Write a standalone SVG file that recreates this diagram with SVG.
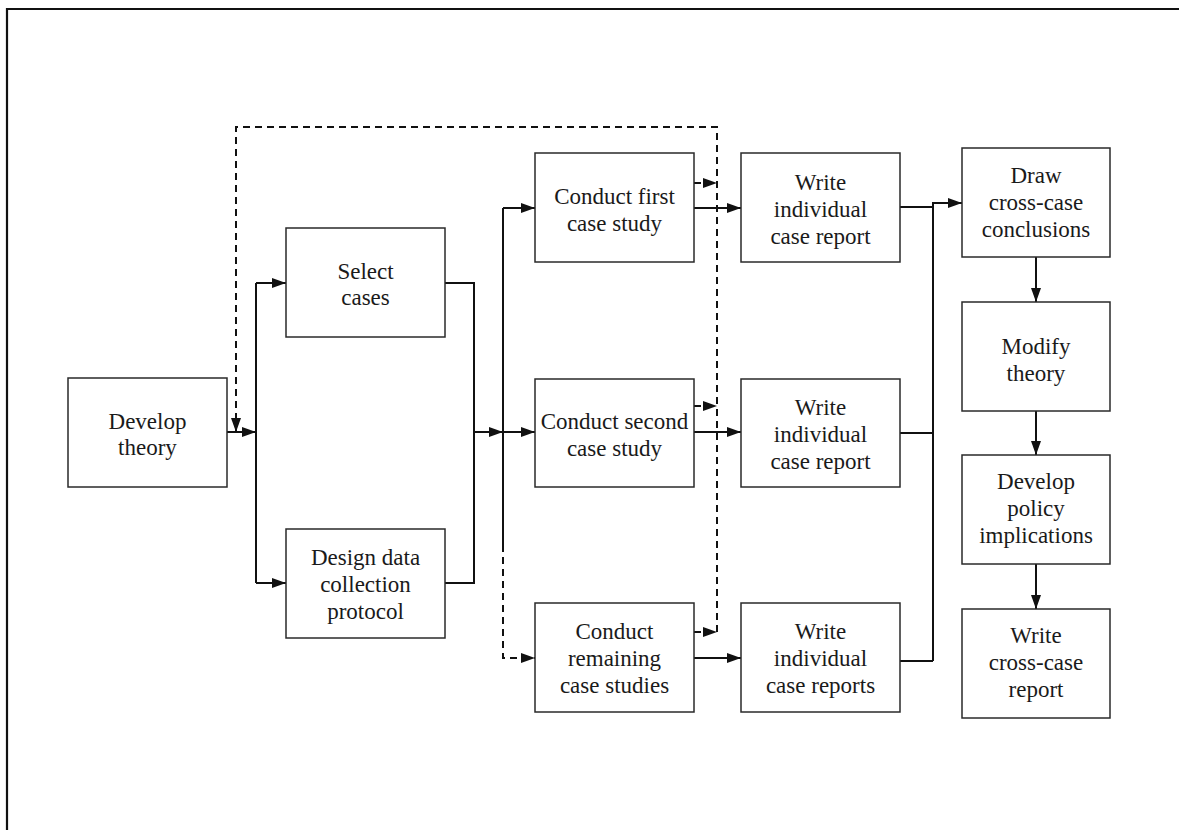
<svg xmlns="http://www.w3.org/2000/svg" width="1179" height="830" viewBox="0 0 1179 830">
  <style>
    .box { fill: #ffffff; stroke: #2a2a2a; stroke-width: 1.5; }
    .lbl { font-family: "Liberation Serif", "Times New Roman", serif; font-size: 23px; fill: #1a1a1a; text-anchor: middle; }
    .ln { fill: none; stroke: #111; stroke-width: 2; }
    .dash { fill: none; stroke: #111; stroke-width: 2; stroke-dasharray: 7 5; }
    .arr { marker-end: url(#head); }
  </style>
  <defs>
    <marker id="head" markerUnits="userSpaceOnUse" markerWidth="16" markerHeight="12" refX="14" refY="5.5" orient="auto">
      <path d="M0,0.5 L14,5.5 L0,10.5 z" fill="#111"/>
    </marker>
  </defs>

  <rect x="0" y="0" width="1179" height="830" fill="#ffffff"/>
  <!-- page frame (top and left edges) -->
  <path d="M7,832 V9 H1181" fill="none" stroke="#111" stroke-width="2.2"/>

  <!-- connectors -->
  <g id="connectors">
    <path class="ln arr" d="M227,432 H256"/>
    <path class="ln" d="M256,283 V583"/>
    <path class="ln arr" d="M256,283 H286"/>
    <path class="ln arr" d="M256,583 H286"/>
    <path class="ln" d="M445,283 H474 V583 H445"/>
    <path class="ln arr" d="M474,432 H503"/>
    <path class="ln arr" d="M503,432 H535"/>
    <path class="ln" d="M503,545 V208"/>
    <path class="ln arr" d="M503,208 H535"/>
    <path class="dash arr" d="M503,545 V658 H535"/>

    <path class="dash arr" d="M694,183 H717"/>
    <path class="dash arr" d="M694,406 H717"/>
    <path class="dash arr" d="M694,632 H717"/>
    <path class="dash arr" d="M717,632 V127 H236 V432"/>

    <path class="ln arr" d="M694,208 H741"/>
    <path class="ln arr" d="M694,432 H741"/>
    <path class="ln arr" d="M694,658 H741"/>

    <path class="ln" d="M900,207 H933"/>
    <path class="ln" d="M900,433 H933"/>
    <path class="ln" d="M900,661 H933"/>
    <path class="ln arr" d="M933,661 V203 H962"/>

    <path class="ln arr" d="M1036,257 V302"/>
    <path class="ln arr" d="M1036,411 V455"/>
    <path class="ln arr" d="M1036,564 V609"/>
  </g>

  <!-- nodes -->
  <g id="develop-theory">
    <rect class="box" x="68" y="378" width="159" height="109"/>
    <text class="lbl" x="147.5" y="429">Develop</text>
    <text class="lbl" x="147.5" y="455">theory</text>
  </g>
  <g id="select-cases">
    <rect class="box" x="286" y="228" width="159" height="109"/>
    <text class="lbl" x="365.5" y="279">Select</text>
    <text class="lbl" x="365.5" y="305">cases</text>
  </g>
  <g id="design-protocol">
    <rect class="box" x="286" y="529" width="159" height="109"/>
    <text class="lbl" x="365.5" y="565">Design data</text>
    <text class="lbl" x="365.5" y="592">collection</text>
    <text class="lbl" x="365.5" y="619">protocol</text>
  </g>

  <g id="conduct-first">
    <rect class="box" x="535" y="153" width="159" height="109"/>
    <text class="lbl" x="614.5" y="204">Conduct first</text>
    <text class="lbl" x="614.5" y="231">case study</text>
  </g>
  <g id="conduct-second">
    <rect class="box" x="535" y="379" width="159" height="108"/>
    <text class="lbl" x="614.5" y="429">Conduct second</text>
    <text class="lbl" x="614.5" y="456">case study</text>
  </g>
  <g id="conduct-remaining">
    <rect class="box" x="535" y="603" width="159" height="109"/>
    <text class="lbl" x="614.5" y="639">Conduct</text>
    <text class="lbl" x="614.5" y="666">remaining</text>
    <text class="lbl" x="614.5" y="693">case studies</text>
  </g>

  <g id="write-first">
    <rect class="box" x="741" y="153" width="159" height="109"/>
    <text class="lbl" x="820.5" y="190">Write</text>
    <text class="lbl" x="820.5" y="217">individual</text>
    <text class="lbl" x="820.5" y="244">case report</text>
  </g>
  <g id="write-second">
    <rect class="box" x="741" y="379" width="159" height="108"/>
    <text class="lbl" x="820.5" y="415">Write</text>
    <text class="lbl" x="820.5" y="442">individual</text>
    <text class="lbl" x="820.5" y="469">case report</text>
  </g>
  <g id="write-remaining">
    <rect class="box" x="741" y="603" width="159" height="109"/>
    <text class="lbl" x="820.5" y="639">Write</text>
    <text class="lbl" x="820.5" y="666">individual</text>
    <text class="lbl" x="820.5" y="693">case reports</text>
  </g>

  <g id="draw-conclusions">
    <rect class="box" x="962" y="148" width="148" height="109"/>
    <text class="lbl" x="1036" y="183">Draw</text>
    <text class="lbl" x="1036" y="210">cross-case</text>
    <text class="lbl" x="1036" y="237">conclusions</text>
  </g>
  <g id="modify-theory">
    <rect class="box" x="962" y="302" width="148" height="109"/>
    <text class="lbl" x="1036" y="354">Modify</text>
    <text class="lbl" x="1036" y="381">theory</text>
  </g>
  <g id="policy-implications">
    <rect class="box" x="962" y="455" width="148" height="109"/>
    <text class="lbl" x="1036" y="489">Develop</text>
    <text class="lbl" x="1036" y="516">policy</text>
    <text class="lbl" x="1036" y="543">implications</text>
  </g>
  <g id="cross-case-report">
    <rect class="box" x="962" y="609" width="148" height="109"/>
    <text class="lbl" x="1036" y="643">Write</text>
    <text class="lbl" x="1036" y="670">cross-case</text>
    <text class="lbl" x="1036" y="697">report</text>
  </g>
</svg>
